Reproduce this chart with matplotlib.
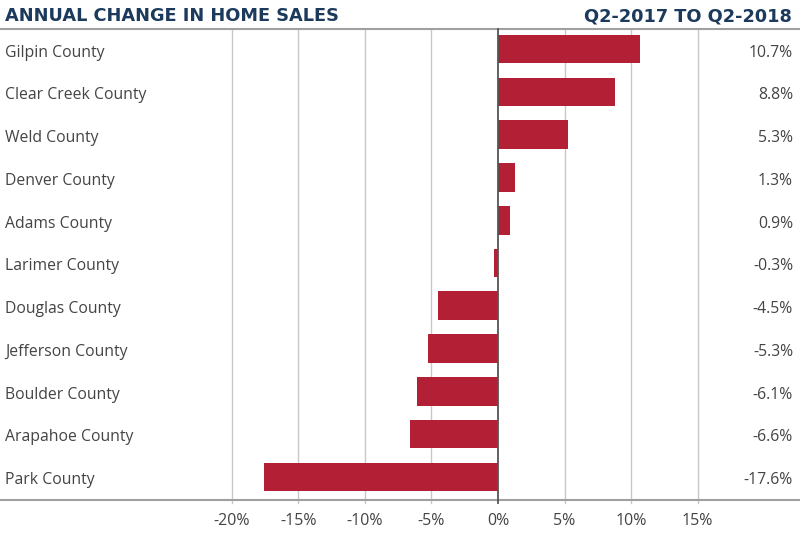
import matplotlib.pyplot as plt

counties = ["Gilpin County", "Clear Creek County", "Weld County", "Denver County",
            "Adams County", "Larimer County", "Douglas County", "Jefferson County",
            "Boulder County", "Arapahoe County", "Park County"]
changes = [10.7, 8.8, 5.3, 1.3, 0.9, -0.3, -4.5, -5.3, -6.1, -6.6, -17.6]
xticks = [-20, -15, -10, -5, 0, 5, 10, 15]

plt.rcParams['font.family'] = ['Open Sans', 'DejaVu Sans']

fig = plt.figure(figsize=(8, 5.4), dpi=100)
ax = fig.add_axes([0, 40.5 / 540, 1, 470.5 / 540])

ypos = list(range(len(counties)))
ax.barh(ypos, changes, height=0.67, color="#B31F35", zorder=3)

ax.set_xlim(-498 / 13.3, 302 / 13.3)
ax.set_ylim(10.53, -0.47)

# gridlines poke a few pixels below the bottom rule
for t in xticks:
    if t == 0:
        ax.plot([0, 0], [-0.47, 10.62], color="#555555", lw=1.3, zorder=4, clip_on=False)
    else:
        ax.plot([t, t], [-0.47, 10.62], color="#c8c8c8", lw=1, zorder=1, clip_on=False)

ax.set_xticks(xticks)
ax.set_xticklabels([f"{t}%" for t in xticks], color="#444444", fontsize=11.5)
ax.tick_params(axis='x', length=0, pad=10)
ax.set_yticks([])

for s in ["left", "right"]:
    ax.spines[s].set_visible(False)
for s in ["top", "bottom"]:
    ax.spines[s].set_color("#a0a0a0")
    ax.spines[s].set_linewidth(1.5)

for y, name, v in zip(ypos, counties, changes):
    ax.text(5 / 800, y + 0.08, name, transform=ax.get_yaxis_transform(), ha="left",
            va="center", fontsize=11.3, color="#444444")
    ax.text(793 / 800, y + 0.08, f"{v}%", transform=ax.get_yaxis_transform(), ha="right",
            va="center", fontsize=11.3, color="#444444")

fig.text(5 / 800, 1 - 16 / 540, "ANNUAL CHANGE IN HOME SALES", ha="left", va="center",
         fontsize=12.8, fontweight="bold", color="#1B3A5C", family="DejaVu Sans")
fig.text(792 / 800, 1 - 16 / 540, "Q2-2017 TO Q2-2018", ha="right", va="center",
         fontsize=12.8, fontweight="bold", color="#1B3A5C", family="DejaVu Sans")

fig.savefig("out.png", dpi=100)
